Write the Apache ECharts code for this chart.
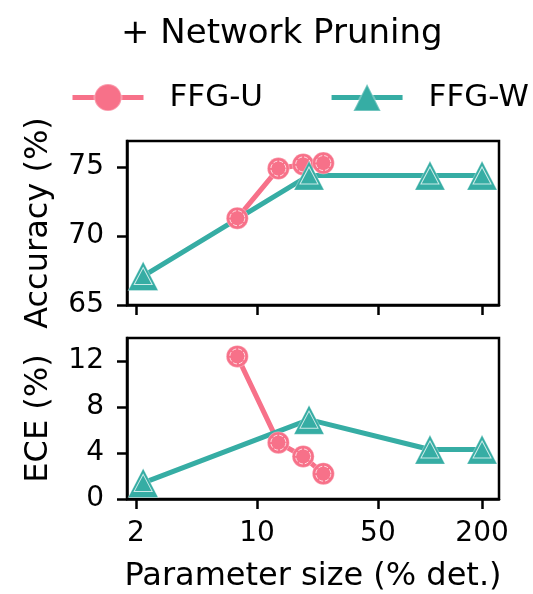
<!DOCTYPE html>
<html><head><meta charset="utf-8">
<script src="https://cdn.jsdelivr.net/npm/echarts@6/dist/echarts.min.js"></script>
<style>html,body{margin:0;padding:0;background:#fff}#c{width:533px;height:594px}</style>
</head><body><div id="c"></div>
<script>
const titleText = '+ Network Pruning';
const seriesNames = ['FFG-U', 'FFG-W'];
const xU = [7.7, 13.3, 18.5, 24.2];
const accU = [71.3, 74.9, 75.2, 75.3];
const eceU = [12.4, 4.9, 3.7, 2.2];
const xW = [2.2, 20, 100, 200];
const accW = [67.1, 74.4, 74.4, 74.4];
const eceW = [1.4, 6.9, 4.3, 4.3];
const xTicks = [2, 10, 50, 200];
const accTicks = [65, 70, 75];
const eceTicks = [0, 4, 8, 12];
const xLabel = 'Parameter size (% det.)';
const accLabel = 'Accuracy (%)';
const eceLabel = 'ECE (%)';

const FONT = 'DejaVu Sans';
const PINK = '#f77189', TEAL = '#36ada4';
const toPts = (xs, ys) => xs.map((x, i) => [Math.log10(x), ys[i]]);
const xTickVals = xTicks.map(v => Math.log10(v));

function xAxis(gridIndex, showLabels) {
  return {
    type: 'value', gridIndex, min: 0.249, max: 2.399,
    splitLine: {show: false},
    axisLine: {show: true, onZero: false, lineStyle: {color: '#000', width: 2.5}},
    axisTick: {show: true, customValues: xTickVals, length: 10, lineStyle: {color: '#000', width: 2.5}},
    axisLabel: {show: showLabels, customValues: xTickVals, margin: 21, fontSize: 28, fontFamily: FONT, color: '#000',
      formatter: v => String(Math.round(Math.pow(10, v)))},
    name: showLabels ? xLabel : '', nameLocation: 'middle', nameGap: 62,
    nameTextStyle: {fontSize: 32, fontFamily: FONT, color: '#000'}
  };
}
function yAxis(gridIndex, min, max, ticks, name) {
  return {
    type: 'value', gridIndex, min, max,
    splitLine: {show: false},
    axisLine: {show: true, lineStyle: {color: '#000', width: 2.5}},
    axisTick: {show: true, customValues: ticks, length: 10, lineStyle: {color: '#000', width: 2.5}},
    axisLabel: {customValues: ticks, margin: 23, fontSize: 28, fontFamily: FONT, color: '#000'},
    name, nameLocation: 'middle', nameGap: 72,
    nameTextStyle: {fontSize: 32, fontFamily: FONT, color: '#000'}
  };
}
function mainSeries(name, data, xi, color, symbol, size) {
  return {
    name, type: 'line', xAxisIndex: xi, yAxisIndex: xi, data,
    symbol, symbolSize: size, showSymbol: true,
    lineStyle: {color, width: 5},
    itemStyle: {color, borderColor: 'rgba(255,255,255,0.3)', borderWidth: 1},
    emphasis: {disabled: true}, silent: true
  };
}
function decoSeries(data, xi, symbol, size, dashed) {
  return {
    name: '_deco', type: 'line', xAxisIndex: xi, yAxisIndex: xi, data,
    symbol, symbolSize: size, showSymbol: true,
    lineStyle: {width: 0, opacity: 0},
    itemStyle: {color: 'rgba(0,0,0,0)', borderColor: 'rgba(255,255,255,0.75)', borderWidth: 1, borderType: dashed ? 'dashed' : 'solid'},
    emphasis: {disabled: true}, silent: true
  };
}

const chart = echarts.init(document.getElementById('c'), null, {renderer: 'canvas'});
chart.setOption({
  animation: false,
  backgroundColor: '#fff',
  title: {text: titleText, left: 121, top: 17, padding: 0, textStyle: {fontSize: 34, fontWeight: 'normal', fontFamily: FONT, color: '#000'}},
  legend: {
    orient: 'horizontal', width: 520, padding: 0,
    data: [
      {name: seriesNames[0], lineStyle: {width: 5, color: PINK}},
      {name: seriesNames[1], lineStyle: {width: 5, color: TEAL}}
    ],
    left: 70, top: 82, itemWidth: 71, itemHeight: 34, itemGap: 66,
    textStyle: {fontSize: 31, fontFamily: FONT, color: '#000', padding: [0, 0, 0, 21]},
    selectedMode: false
  },
  grid: [
    {left: 127, right: 34, top: 141, height: 164, show: true, borderColor: '#000', borderWidth: 2.5, containLabel: false},
    {left: 127, right: 34, top: 338, height: 165, show: true, borderColor: '#000', borderWidth: 2.5, containLabel: false}
  ],
  xAxis: [xAxis(0, false), xAxis(1, true)],
  yAxis: [yAxis(0, 65, 76.9, accTicks, accLabel), yAxis(1, 0, 14, eceTicks, eceLabel)],
  series: [
    mainSeries(seriesNames[0], toPts(xU, accU), 0, PINK, 'circle', 22),
    decoSeries(toPts(xU, accU), 0, 'circle', 15, true),
    mainSeries(seriesNames[1], toPts(xW, accW), 0, TEAL, 'triangle', [30, 29]),
    decoSeries(toPts(xW, accW), 0, 'triangle', [18, 17], false),
    mainSeries(seriesNames[0], toPts(xU, eceU), 1, PINK, 'circle', 22),
    decoSeries(toPts(xU, eceU), 1, 'circle', 15, true),
    mainSeries(seriesNames[1], toPts(xW, eceW), 1, TEAL, 'triangle', [30, 29]),
    decoSeries(toPts(xW, eceW), 1, 'triangle', [18, 17], false)
  ]
});
</script>
</body></html>
